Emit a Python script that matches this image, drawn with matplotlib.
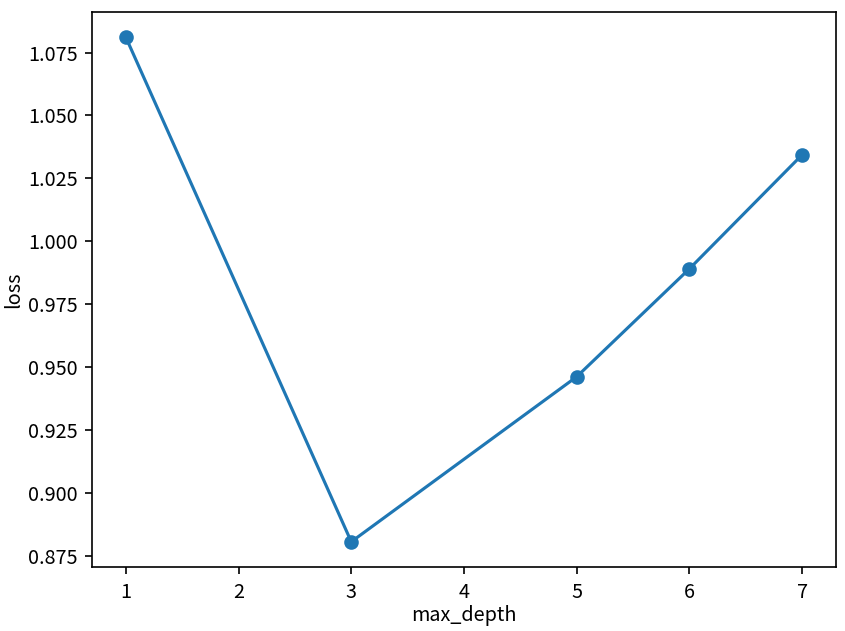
import matplotlib
matplotlib.use("Agg")
import matplotlib.pyplot as plt

plt.rcParams["font.family"] = ["Noto Sans CJK SC", "DejaVu Sans"]
plt.rcParams["axes.unicode_minus"] = False
plt.rcParams["font.size"] = 9.5

max_depth = [1, 3, 5, 6, 7]
loss = [1.0811, 0.8806, 0.9462, 0.9891, 1.0344]

fig = plt.figure(figsize=(845 / 150, 631 / 150), dpi=150)
ax = fig.add_axes([92 / 845, 64 / 631, 744 / 845, 555 / 631])

ax.scatter(max_depth, loss)
ax.plot(max_depth, loss)

ax.set_xlabel("max_depth", labelpad=1)
ax.set_ylabel("loss", labelpad=2)

fig.savefig("out.png", dpi=150)
